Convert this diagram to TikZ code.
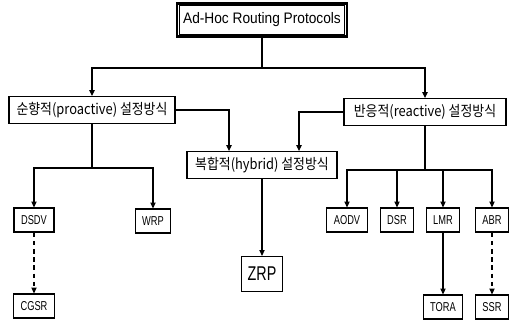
\documentclass[tikz,border=0pt]{standalone}
\usepackage{fontspec}
\setmainfont{Liberation Sans}
\newfontfamily\wideface[FakeStretch=0.9]{Liberation Sans}
\newfontfamily\narrowface[FakeStretch=0.72]{Liberation Sans}
\newfontfamily\krface[FakeStretch=0.88]{Noto Sans CJK KR}
\usepackage{tikz}
\usetikzlibrary{arrows.meta,calc}

\begin{document}
\begin{tikzpicture}[x=0.03cm,y=-0.03cm,>={Triangle[length=5pt,width=4.5pt]},line width=0.9pt,
  catbox/.style={draw,line width=1pt,minimum height=0.8cm,inner xsep=3pt,font={\krface\fontsize{12.5pt}{14pt}\selectfont}},
  protobox/.style={draw,line width=1pt,minimum height=0.72cm,inner xsep=6pt,font={\narrowface\fontsize{11pt}{13pt}\selectfont}},
  weak/.style={dash pattern=on 4pt off 3pt}]
  \fill[white] (0,0) rectangle (510,331);
  \useasboundingbox (0,0) rectangle (510,331);
  \node[draw,line width=2.2pt,minimum width=5.1cm,minimum height=0.99cm,font={\wideface\fontsize{13pt}{15pt}\selectfont}] (root) at (262,20) {Ad-Hoc Routing Protocols};
  \draw[line width=0.6pt] ([shift={(3pt,-3pt)}]root.north west) rectangle ([shift={(-3pt,3pt)}]root.south east);
  \node[catbox,minimum width=4.98cm] (pro) at (92,110) {순향적(proactive) 설정방식};
  \node[catbox,minimum width=4.86cm] (rea) at (425,112) {반응적(reactive) 설정방식};
  \node[catbox,minimum width=4.5cm] (hyb) at (262,165) {복합적(hybrid) 설정방식};
  \node[protobox] (dsdv) at (34,220) {DSDV};
  \node[protobox] (wrp) at (153,221) {WRP};
  \node[protobox] (cgsr) at (34,306) {CGSR};
  \node[draw,line width=1pt,minimum height=1.05cm,inner xsep=5pt,font={\narrowface\fontsize{17pt}{19pt}\selectfont}] (zrp) at (262,274) {ZRP};
  \node[protobox] (aodv) at (347,220) {AODV};
  \node[protobox] (dsr) at (397,220) {DSR};
  \node[protobox] (lmr) at (443,220) {LMR};
  \node[protobox] (abr) at (492,220) {ABR};
  \node[protobox] (tora) at (443,307) {TORA};
  \node[protobox] (ssr) at (492,307) {SSR};
  \coordinate (topbus) at (262,68);
  \coordinate (probus) at (92,168);
  \coordinate (reabus) at (425,170);
  \draw (root) -- (topbus);
  \draw[->] (topbus) -| (pro);
  \draw[->] (topbus) -| (rea);
  \draw[->] (pro.east) -| ($(hyb.north)+(-33,0)$);
  \draw[->] (rea.west) -| ($(hyb.north)+(37,0)$);
  \draw (pro) -- (probus);
  \draw[->] (probus) -| (dsdv);
  \draw[->] (probus) -| (wrp);
  \draw[->,weak] (dsdv) -- (cgsr);
  \draw[->] (hyb) -- (zrp);
  \draw (rea) -- (reabus);
  \foreach \p in {aodv,dsr,lmr,abr} \draw[->] (reabus) -| (\p);
  \draw[->] (lmr) -- (tora);
  \draw[->,weak] (abr) -- (ssr);
\end{tikzpicture}
\end{document}
